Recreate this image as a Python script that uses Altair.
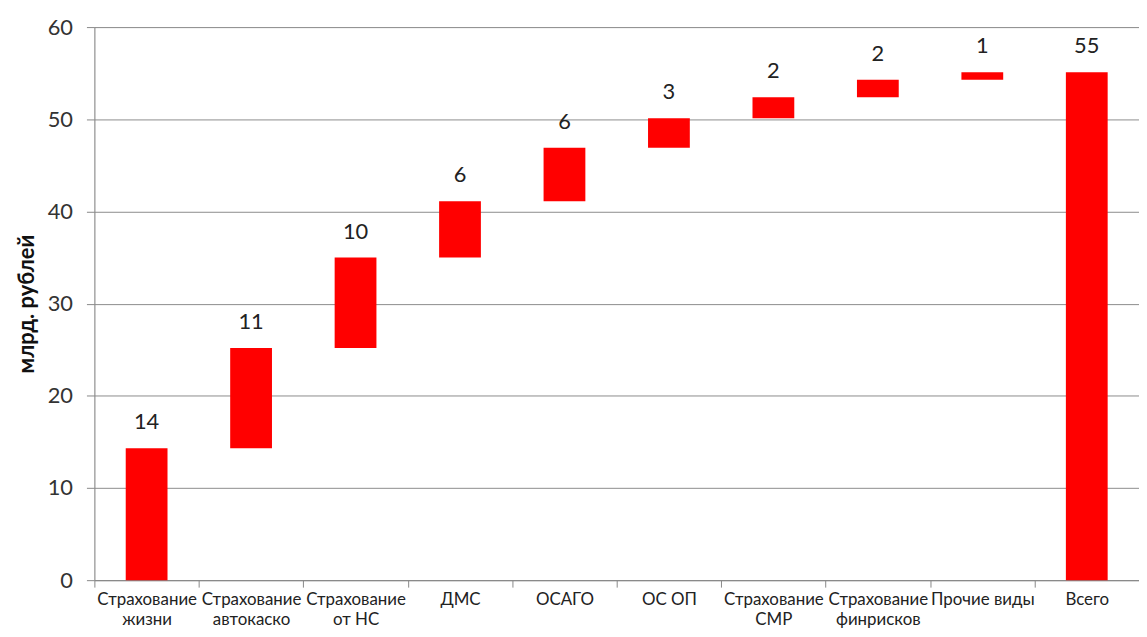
import altair as alt
import pandas as pd

categories = ["Страхование\nжизни", "Страхование\nавтокаско", "Страхование\nот НС", "ДМС",
              "ОСАГО", "ОС ОП", "Страхование\nСМР", "Страхование\nфинрисков", "Прочие виды", "Всего"]
increments = [14.3, 10.9, 9.8, 6.1, 5.8, 3.2, 2.3, 1.9, 0.8]
labels = ["14", "11", "10", "6", "6", "3", "2", "2", "1", "55"]

ends = pd.Series(increments).cumsum().round(2).tolist()
starts = [0.0] + ends[:-1]
total = round(sum(increments), 2)
starts.append(0.0)
ends.append(total)

df = pd.DataFrame({"cat": categories, "start": starts, "end": ends, "label": labels})

FONT = "Lato"
W = 1052
STEP = W / 10.0
HALF = STEP / 2

x = alt.X("cat:N", sort=categories, title=None,
          scale=alt.Scale(paddingInner=0.6, paddingOuter=0.3),
          axis=alt.Axis(labelAngle=0, labelExpr="split(datum.label, '\\n')",
                        labelFontSize=17, labelColor="#222222", labelFont=FONT,
                        labelLimit=200, labelPadding=5, labelLineHeight=20,
                        tickOffset=-HALF, labelOffset=HALF, tickSize=7,
                        tickColor="#888888", domainColor="#888888", grid=False))

bars = alt.Chart(df).mark_bar(color="#FF0000").encode(
    x=x,
    y=alt.Y("start:Q", title="млрд. рублей",
            scale=alt.Scale(domain=[0, 60], nice=False),
            axis=alt.Axis(values=[0, 10, 20, 30, 40, 50, 60], labelFontSize=22,
                          labelColor="#333333", labelFont=FONT, tickSize=8,
                          tickColor="#888888", domainColor="#888888",
                          gridColor="#8c8c8c", labelPadding=14,
                          titleFont=FONT, titleFontSize=22, titleFontWeight="bold",
                          titleColor="#111111", titlePadding=9)),
    y2="end:Q",
)

text = alt.Chart(df).mark_text(baseline="bottom", dy=-14, fontSize=22,
                               font=FONT, color="#222222").encode(
    x=alt.X("cat:N", sort=categories),
    y="end:Q",
    text="label:N",
)

chart = (bars + text).properties(
    width=W, height=557,
    autosize=alt.AutoSizeParams(type="none"),
    padding={"left": 87, "top": 17, "right": 0, "bottom": 54},
).configure_view(stroke=None).configure(background="white")

chart.save("out.html", embed_options={"renderer": "svg", "actions": False})
